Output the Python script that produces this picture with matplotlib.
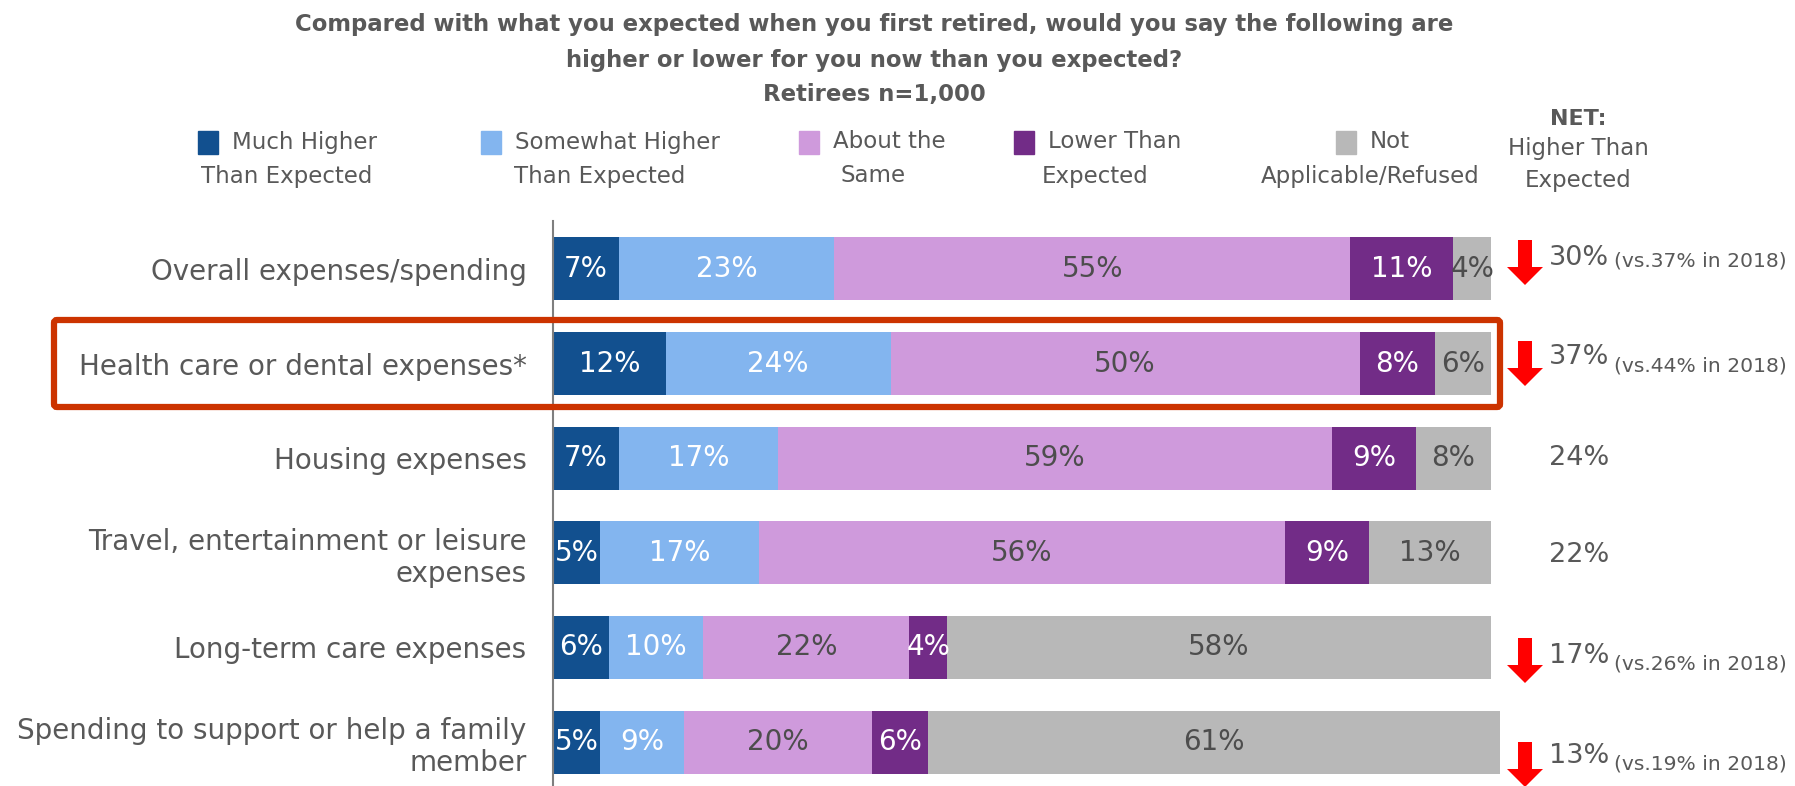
import matplotlib
matplotlib.use("Agg")
import matplotlib.pyplot as plt
from matplotlib.patches import Rectangle, FancyBboxPatch, Polygon

# ---------------- data ----------------
categories = [
    "Overall expenses/spending",
    "Health care or dental expenses*",
    "Housing expenses",
    "Travel, entertainment or leisure\nexpenses",
    "Long-term care expenses",
    "Spending to support or help a family\nmember",
]
series_names = [
    "Much Higher\nThan Expected",
    "Somewhat Higher\nThan Expected",
    "About the\nSame",
    "Lower Than\nExpected",
    "Not\nApplicable/Refused",
]
much_higher = [7, 12, 7, 5, 6, 5]
somewhat_higher = [23, 24, 17, 17, 10, 9]
about_same = [55, 50, 59, 56, 22, 20]
lower = [11, 8, 9, 9, 4, 6]
not_applicable = [4, 6, 8, 13, 58, 61]
net_higher = [30, 37, 24, 22, 17, 13]
net_2018 = [37, 44, None, None, 26, 19]

title_lines = [
    "Compared with what you expected when you first retired, would you say the following are",
    "higher or lower for you now than you expected?",
    "Retirees n=1,000",
]

colors = ["#12508F", "#83B5EF", "#CF9ADC", "#722C87", "#B8B8B8"]
label_colors = ["white", "white", "#4D4D4D", "white", "#4D4D4D"]
TXT = "#595959"
FONT = "DejaVu Sans"
plt.rcParams["font.family"] = [FONT]

W, H = 1795, 786
fig = plt.figure(figsize=(W / 100, H / 100), dpi=100)

# ---------------- bar axes ----------------
ax_left, ax_right = 553, 1491
ax_top, ax_bottom = 221, 786
ax = fig.add_axes([ax_left / W, 1 - ax_bottom / H, (ax_right - ax_left) / W, (ax_bottom - ax_top) / H])
ax.set_xlim(0, 100)
ax.set_ylim(5.465, -0.507)

series = [much_higher, somewhat_higher, about_same, lower, not_applicable]
ypos = list(range(len(categories)))
lefts = [0] * len(categories)
for s, vals in enumerate(series):
    ax.barh(ypos, vals, left=lefts, height=0.666, color=colors[s],
            edgecolor="none", clip_on=False, zorder=2)
    for i, v in enumerate(vals):
        ax.text(lefts[i] + v / 2, ypos[i], f"{v}%", ha="center", va="center",
                fontsize=20, color=label_colors[s], clip_on=False, zorder=3)
    lefts = [l + v for l, v in zip(lefts, vals)]

ax.set_yticks(ypos)
ax.set_yticklabels(categories, fontsize=20, color=TXT)
ax.tick_params(axis="y", length=0, pad=19)
ax.set_xticks([])
for sp in ["top", "right", "bottom"]:
    ax.spines[sp].set_visible(False)
ax.spines["left"].set_color("#7F7F7F")
ax.spines["left"].set_linewidth(1.5)
ax.patch.set_visible(False)

# ---------------- overlay in pixel coordinates ----------------
ov = fig.add_axes([0, 0, 1, 1])
ov.set_xlim(0, W)
ov.set_ylim(H, 0)
ov.axis("off")
ov.patch.set_visible(False)

# titles
tx = 874
for yy, line in zip([25, 60, 94], title_lines):
    ov.text(tx, yy, line, ha="center", va="center", fontsize=16.4,
            fontweight="bold", color=TXT)

# legend
sq_x = [198, 481, 799, 1014, 1336]
l2_cx = [287, 600, 873, 1095, 1370]
for k, name in enumerate(series_names):
    first, second = name.split("\n")
    ov.add_patch(Rectangle((sq_x[k], 131), 20, 23, color=colors[k]))
    ov.text(sq_x[k] + 34, 142, first, ha="left", va="center", fontsize=16.5, color=TXT)
    ov.text(l2_cx[k], 176, second, ha="center", va="center", fontsize=16.5, color=TXT)

# NET header
ov.text(1578, 119, "NET:", ha="center", va="center", fontsize=16, fontweight="bold", color=TXT)
ov.text(1578, 149, "Higher Than", ha="center", va="center", fontsize=16.5, color=TXT)
ov.text(1578, 180, "Expected", ha="center", va="center", fontsize=16.5, color=TXT)

# NET values with arrows
net_y = [258, 357, 458, 555, 656, 756]
vs_y = [261, 366, None, None, 664, 764]
arrow_top = [240, 341, None, None, 638, 742]
for i, v in enumerate(net_higher):
    ov.text(1549, net_y[i], f"{v}%", ha="left", va="center", fontsize=19.5, color=TXT)
    if net_2018[i] is not None:
        ov.text(1614, vs_y[i], f"(vs.{net_2018[i]}% in 2018)", ha="left", va="center",
                fontsize=14.6, color=TXT)
        t = arrow_top[i]
        cx = 1525
        pts = [(cx - 7, t), (cx + 7, t), (cx + 7, t + 27), (cx + 18, t + 27),
               (cx, t + 45), (cx - 18, t + 27), (cx - 7, t + 27)]
        ov.add_patch(Polygon(pts, closed=True, color="#FF0000", lw=0))

# highlight box
ov.add_patch(FancyBboxPatch((54, 320), 1500 - 54, 407 - 320,
                            boxstyle="round,pad=0,rounding_size=3",
                            fill=False, edgecolor="#CC3300", linewidth=4.5))

fig.savefig("out.png", dpi=100)
